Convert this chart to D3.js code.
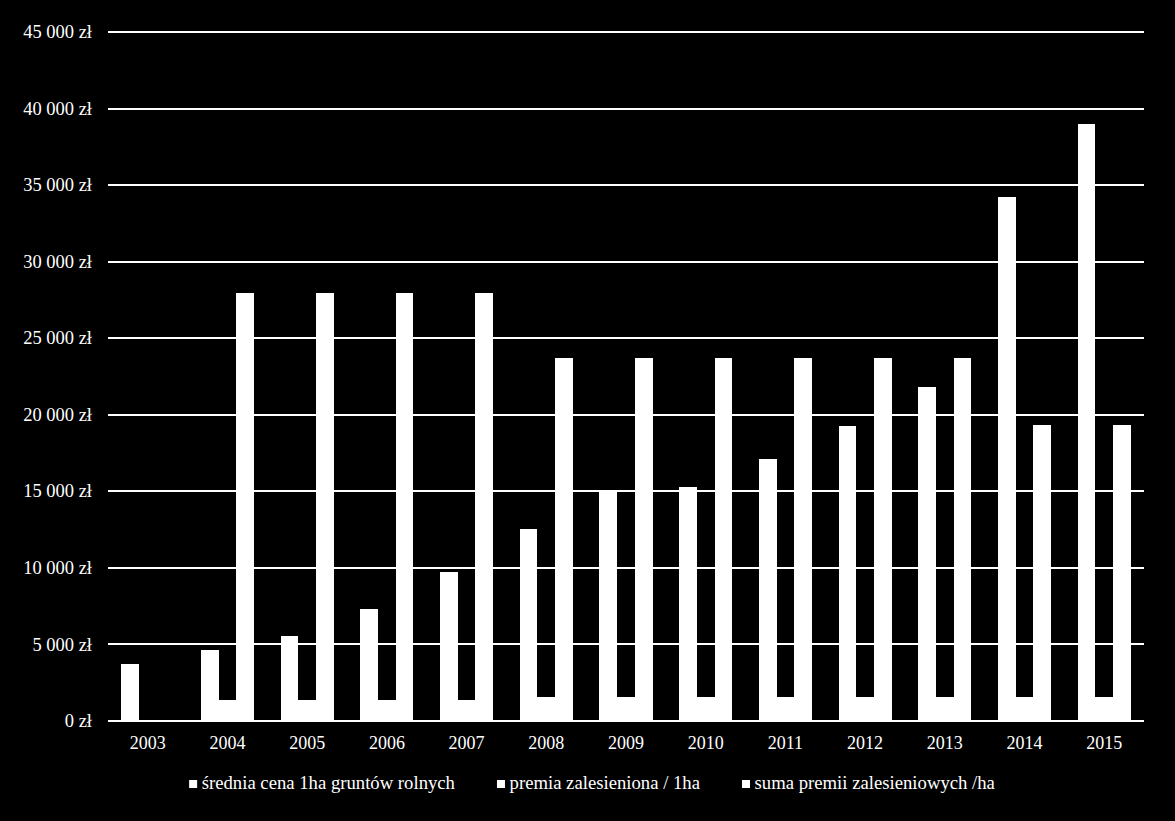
<!DOCTYPE html>
<html>
<head>
<meta charset="utf-8">
<script src="https://cdn.jsdelivr.net/npm/d3@7"></script>
<style>
  html, body { margin: 0; padding: 0; background: #000; }
  svg { display: block; }
  svg text { font-family: "Liberation Serif", "DejaVu Serif", serif; fill: #fff; }
</style>
</head>
<body>
<svg id="chart" width="1175" height="821"></svg>
<script>
const years = ["2003","2004","2005","2006","2007","2008","2009","2010","2011","2012","2013","2014","2015"];
const seriesNames = ["średnia cena 1ha gruntów rolnych", "premia zalesieniona / 1ha", "suma premii zalesieniowych /ha"];
const sredniaCena = [3720, 4640, 5550, 7310, 9730, 12540, 15000, 15280, 17110, 19280, 21820, 34210, 38970];
const premia = [0, 1370, 1370, 1370, 1370, 1600, 1600, 1600, 1600, 1600, 1600, 1600, 1600];
const sumaPremii = [0, 27950, 27950, 27950, 27950, 23710, 23710, 23710, 23710, 23710, 23710, 19350, 19350];
const yTicks = [0, 5000, 10000, 15000, 20000, 25000, 30000, 35000, 40000, 45000];

const seriesValues = [sredniaCena, premia, sumaPremii];
const FONT = "'Liberation Serif', 'DejaVu Serif', serif";

const svg = d3.select("#chart");
svg.append("rect").attr("width", 1175).attr("height", 821).attr("fill", "#000");

const margin = {left: 108, right: 31, top: 32, bottom: 100};
const W = 1175, H = 821;

const x = d3.scaleBand().domain(years).range([margin.left, W - margin.right]).paddingInner(0).paddingOuter(0);
const y = d3.scaleLinear().domain([0, 45000]).range([H - margin.bottom, margin.top]);

const groupW = x.bandwidth() / 1.5;
const xs = d3.scaleBand().domain([0,1,2]).range([0, groupW]).padding(0);

const fmt = v => d3.format(",")(v).replace(/,/g, "\u00a0") + " zł";

// gridlines
const grid = svg.append("g").attr("shape-rendering", "crispEdges");
grid.selectAll("line").data(yTicks).join("line")
  .attr("x1", margin.left).attr("x2", W - margin.right)
  .attr("y1", d => Math.round(y(d))).attr("y2", d => Math.round(y(d)))
  .attr("stroke", "#fff").attr("stroke-width", 2);

// y labels
svg.append("g").selectAll("text").data(yTicks).join("text")
  .attr("x", 92).attr("y", d => y(d)).attr("dy", "0.33em")
  .attr("text-anchor", "end").attr("font-size", "18.5px").attr("font-family", FONT)
  .text(d => fmt(d));

// bars
const bx = (yr, si) => x(yr) + (x.bandwidth() - groupW) / 2 + xs(si);
const gBars = svg.append("g").attr("shape-rendering", "crispEdges");
seriesValues.forEach((vals, si) => {
  gBars.append("g").selectAll("rect").data(vals.map((v, i) => ({v, yr: years[i]}))).join("rect")
    .attr("x", d => Math.round(bx(d.yr, si)))
    .attr("width", d => Math.round(bx(d.yr, si) + xs.bandwidth()) - Math.round(bx(d.yr, si)))
    .attr("y", d => y(d.v))
    .attr("height", d => y(0) - y(d.v) + 1)
    .attr("fill", "#fff");
});

// x axis labels
const xAxis = d3.axisBottom(x).tickSize(0).tickPadding(0);
const gx = svg.append("g").attr("transform", `translate(0, ${y(0)})`).call(xAxis);
gx.attr("font-family", FONT).attr("font-size", "18px");
gx.select(".domain").remove();
gx.selectAll("text")
  .attr("y", 28).attr("dy", 0)
  .attr("fill", "#fff");

// legend
const legend = svg.append("g");
const items = legend.selectAll("g").data(seriesNames).join("g");
items.append("rect").attr("width", 8).attr("height", 8).attr("y", -9).attr("fill", "#fff");
items.append("text").attr("x", 12.6).attr("y", 0).attr("font-size", "18.7px").attr("font-family", FONT).text(d => d);
let widths = [];
items.each(function() { widths.push(12.6 + d3.select(this).select("text").node().getComputedTextLength()); });
const spacing = 42;
const total = d3.sum(widths) + spacing * (widths.length - 1);
let cx = 592 - total / 2;
items.attr("transform", (d, i) => {
  const t = `translate(${cx}, 789)`;
  cx += widths[i] + spacing;
  return t;
});
</script>
</body>
</html>
